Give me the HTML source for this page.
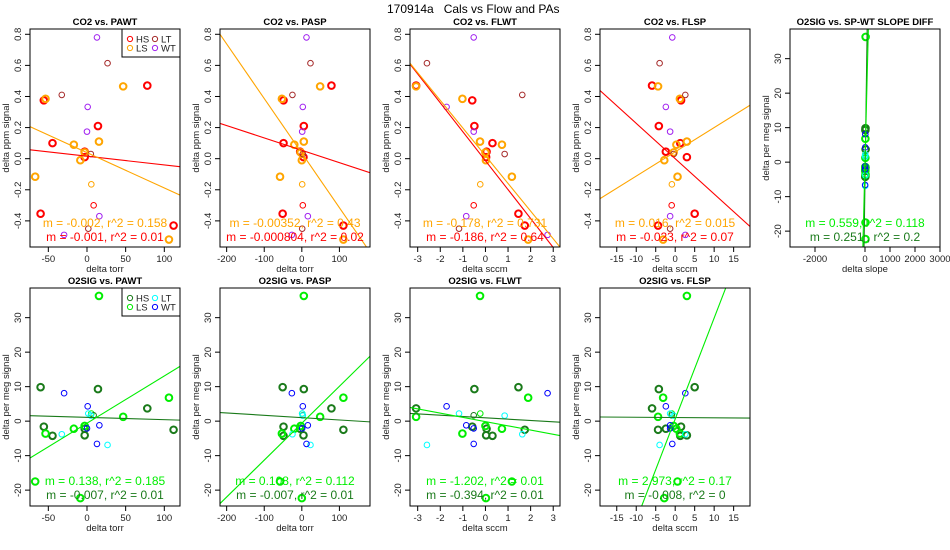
<!DOCTYPE html>
<html><head><meta charset="utf-8"><style>
html,body{margin:0;padding:0;background:#fff;width:950px;height:550px;overflow:hidden;}
svg{display:block;font-family:"Liberation Sans",sans-serif;}
</style></head><body>
<svg id="chart" width="950" height="550" viewBox="0 0 950 550">
<text x="387" y="13" font-size="12" fill="#000" style="white-space:pre" xml:space="preserve">170914a   Cals vs Flow and PAs</text>
</svg>
<script>
// observation data
const groups = ["HS","HS","HS","HS","HS","HS","HS","HS","LS","LS","LS","LS","LS","LS","LS","LS","LS","HS","LT","LT","LT","LT","WT","WT","WT","WT","WT"];
const thick  = [1,1,1,1,1,1,1,1,1,1,1,1,1,1,1,1,0,0,0,0,0,0,0,0,0,0,0];
const pawt = [-55.8,-44.6,14.2,78,-60,112,-3,-3, 46.8,-53.6,15.5,-17,-3,-8.6,-67,106, 5.6,8.6, -32.6,26.6,5,1.7, 12.9,0.9,0,16,-29.6];
const pasp = [-48.7,-48.7,5.3,78.8,-51,110.6,4.4,-4.4, 48.7,-53,5.3,-20,-3,0,-58,110.6, 1,2.6, -25,23,2.6,1, 12.4,2.6,1,16,-26.5];
const flwt = [-0.585,0.31,-0.49,-3.07,1.46,1.74,0.03,0.05, -3.07,-1.02,-0.24,0.73,0,0.02,1.17,1.89, -0.23,-0.52, 1.63,-2.59,0.85,-1.17, -0.52,-1.72,-0.52,-0.85,2.75];
const flsp = [1.5,1.3,-4.2,-5.94,5.0,-4.4,3.0,-2.4, -4.4,1.2,3.0,0.3,-0.4,-2.8,0.6,-3.1, -0.85,-0.9, 2.6,-4.0,-0.4,-1.3, -0.75,-2.4,-1.3,-1.3,2.6];
const co2  = [0.375,0.10,0.21,0.47,-0.354,-0.43,0.01,0.045, 0.465,0.385,0.11,0.09,0.04,-0.01,-0.116,-0.52, -0.165,-0.30, 0.41,0.614,0.03,-0.45, 0.78,0.333,0.174,-0.37,-0.49];
const o2   = [-1.6,-4.25,9.3,3.7,9.85,-2.5,-4.1,-2.2, 1.25,-3.6,36.3,-2.2,-1.4,-22.3,-17.5,6.8, 2.2,1.7, -3.8,-6.9,1.6,2.2, -6.6,4.3,-2.1,-1.2,8.1];
const sdiff = [20,10,15,25,20,10,18,12, 15,20,25,10,12,18,20,15, 8,10, 15,8,10,12, 5,10,8,6,12];
// regression lines [slope, intercept]
const co2Fits = {pawt:[[-0.00056,0.0157],[-0.00227,0.0387]], pasp:[[-0.000795,0.054],[-0.00351,0.0358]], flwt:[[-0.186,-0.013],[-0.178,0.019]], flsp:[[-0.0227,0.0],[0.0156,0.044]]};
const o2Fits = {pawt:[[-0.0067,1.1],[0.137,-0.6]], pasp:[[-0.0068,1.02],[0.107,-0.6]], flwt:[[-0.38,0.96],[-1.23,-0.13]], flsp:[[-0.008,1.05],[2.93,0.6]], sdiff:[[0.5,-5],[0.287,0]]};
const co2Labels = {pawt:["m = -0.001, r^2 = 0.01","m = -0.002, r^2 = 0.158"], pasp:["m = -0.000804, r^2 = 0.02","m = -0.00352, r^2 = 0.43"], flwt:["m = -0.186, r^2 = 0.64","m = -0.178, r^2 = 0.731"], flsp:["m = -0.023, r^2 = 0.07","m = 0.016, r^2 = 0.015"]};
const o2Labels = {pawt:["m = -0.007, r^2 = 0.01","m = 0.138, r^2 = 0.185"], pasp:["m = -0.007, r^2 = 0.01","m = 0.108, r^2 = 0.112"], flwt:["m = -0.394, r^2 = 0.01","m = -1.202, r^2 = 0.01"], flsp:["m = -0.008, r^2 = 0","m = 2.973, r^2 = 0.17"], sdiff:["m = 0.251 , r^2 = 0.2","m = 0.559, r^2 = 0.118"]};
const co2Ticks = [-0.4,-0.2,0,0.2,0.4,0.6,0.8];
const co2TickLabels = ["-0.4","-0.2","0.0","0.2","0.4","0.6","0.8"];
const o2Ticks = [-20,-10,0,10,20,30];
const xTicks = {pawt:[-50,0,50,100], pasp:[-200,-100,0,100], flwt:[-3,-2,-1,0,1,2,3], flsp:[-15,-10,-5,0,5,10,15], sdiff:[-2000,0,1000,2000,3000]};
const xLims = {pawt:[-73.7,120.3], pasp:[-217.7,181.4], flwt:[-3.34,3.3], flsp:[-19.3,19.2], sdiff:[-3000,3000]};
const xData = {pawt:pawt, pasp:pasp, flwt:flwt, flsp:flsp, sdiff:sdiff};
const xNames = {pawt:"PAWT", pasp:"PASP", flwt:"FLWT", flsp:"FLSP", sdiff:"SP-WT SLOPE DIFF"};
const xUnits = {pawt:"delta torr", pasp:"delta torr", flwt:"delta sccm", flsp:"delta sccm", sdiff:"delta slope"};
const co2Colors = {HS:"#ff0000", LS:"#ffa500", LT:"#a52a2a", WT:"#a020f0"};
const o2Colors = {HS:"#1a7a1a", LS:"#00ee00", LT:"#00ffff", WT:"#0000ff"};

const svg = document.getElementById('chart');
const NS = "http://www.w3.org/2000/svg";
function mk(tag, attrs, parent){ const e=document.createElementNS(NS,tag); for(const k in attrs) e.setAttribute(k,attrs[k]); (parent||svg).appendChild(e); return e; }

function panel(col,row,key,isCO2){
  const L=30+190*col, W=150, T=row?288:29, H=218;
  const xl=xLims[key], yl=isCO2?[-0.568,0.834]:[-24.6,38.6];
  const sx=v=>L+(v-xl[0])/(xl[1]-xl[0])*W;
  const sy=v=>T+H-(v-yl[0])/(yl[1]-yl[0])*H;
  const g=mk('g',{});
  
  
  const cp='clip'+col+row;
  const cd=mk('clipPath',{id:cp},g); mk('rect',{x:L,y:T,width:W,height:H},cd);
  const t=mk('text',{x:L+W/2,y:T-4,'font-size':9.5,'font-weight':'bold','text-anchor':'middle'},g);
  t.textContent=(isCO2?'CO2':'O2SIG')+' vs. '+xNames[key];
   
  xTicks[key].forEach(v=>{ const x=sx(v);
    mk('line',{x1:x,x2:x,y1:T+H,y2:T+H+5,stroke:'#000','stroke-width':1},g);
    const tl=mk('text',{x:x,y:T+H+15,'font-size':9.5,'text-anchor':'middle',fill:'#222'},g); tl.textContent=String(v);
     
  });
  const xt=mk('text',{x:L+W/2,y:T+H+25,'font-size':9.5,'text-anchor':'middle',fill:'#222'},g); xt.textContent=xUnits[key];
   
  const yt=isCO2?co2Ticks:o2Ticks;
  yt.forEach((v,i)=>{ const y=sy(v);
    mk('line',{x1:L-5,x2:L,y1:y,y2:y,stroke:'#000','stroke-width':1},g);
    const tl=mk('text',{x:0,y:0,'font-size':9.5,'text-anchor':'middle',fill:'#222',transform:`translate(${L-9},${y}) rotate(-90)`},g);
    tl.textContent=isCO2?co2TickLabels[i]:String(v);
     
  });
  const ytt=mk('text',{x:0,y:0,'font-size':9.5,'text-anchor':'middle',fill:'#222',transform:`translate(${L-21},${T+H/2}) rotate(-90)`},g);
  ytt.textContent=isCO2?'delta ppm signal':'delta per meg signal';
   
  const inner=mk('g',{'clip-path':`url(#${cp})`},g);
  const colors=isCO2?co2Colors:o2Colors;
  const xs=xData[key], ys=isCO2?co2:o2;
  xs.forEach((xv,i)=>{
    const c=mk('circle',{cx:sx(xv),cy:sy(ys[i]),r:thick[i]?3.3:2.8,fill:'none',stroke:colors[groups[i]],'stroke-width':thick[i]?2:1},inner);
    
    
  });
  const fits=isCO2?co2Fits[key]:o2Fits[key];
  const lc=isCO2?["#ff0000","#ffa500"]:["#1a7a1a","#00ee00"];
  fits.forEach((f,j)=>{
    const ln=mk('line',{x1:sx(xl[0]),y1:sy(f[1]+f[0]*xl[0]),x2:sx(xl[1]),y2:sy(f[1]+f[0]*xl[1]),stroke:lc[j],'stroke-width':1.1},inner);
    
    
  });
  const labs=isCO2?co2Labels[key]:o2Labels[key];
  const tc=isCO2?["#ff0000","#ffa500"]:["#1a7a1a","#00ee00"];
  const ty1=row?485:227, ty2=row?499:241;
  const s2=mk('text',{x:L+W/2,y:ty1,'font-size':12,'text-anchor':'middle',fill:tc[1]},g); s2.textContent=labs[1];
   
  const s1=mk('text',{x:L+W/2,y:ty2,'font-size':12,'text-anchor':'middle',fill:tc[0]},g); s1.textContent=labs[0];
   
  mk('rect',{x:L,y:T,width:W,height:H,fill:'none',stroke:'#000','stroke-width':1},g);
  if(key==='pawt'){
    const lg=mk('g',{},g);
     
    mk('rect',{x:L+W-58,y:T,width:58,height:28,fill:'#fff',stroke:'#000','stroke-width':1},lg);
    [['HS',0,0],['LT',1,0],['LS',0,1],['WT',1,1]].forEach(e=>{
      const ex=L+W-50+e[1]*25, ey=T+10+e[2]*9;
      const ec=mk('circle',{cx:ex,cy:ey,r:2.6,fill:'none',stroke:colors[e[0]],'stroke-width':1},lg);
       
      const et=mk('text',{x:ex+6,y:ey+3.5,'font-size':9.5,fill:'#222'},lg); et.textContent=e[0];
       
    });
  }
}
['pawt','pasp','flwt','flsp'].forEach((k,c)=>panel(c,0,k,true));
panel(4,0,'sdiff',false);
['pawt','pasp','flwt','flsp'].forEach((k,c)=>panel(c,1,k,false));
</script>
</body></html>
